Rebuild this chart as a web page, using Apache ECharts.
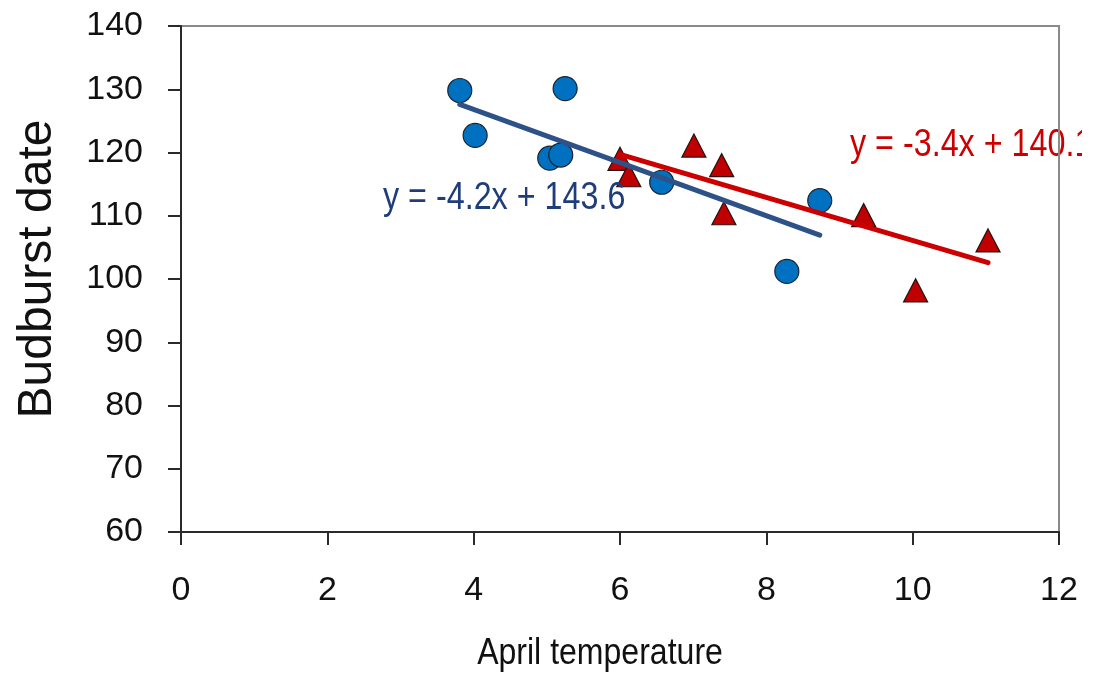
<!DOCTYPE html>
<html>
<head>
<meta charset="utf-8">
<script src="https://cdn.jsdelivr.net/npm/echarts@6/dist/echarts.min.js"></script>
<style>
  html, body { margin: 0; padding: 0; background: #ffffff; }
  #chart { width: 1082px; height: 679px; }
</style>
</head>
<body>
<div id="chart"></div>
<script>
// Budburst date against April temperature, two groups with linear fits
const groupA = [ // circles
  [3.81, 129.8], [4.02, 122.7], [5.25, 130.1], [5.04, 119.1],
  [5.19, 119.6], [6.57, 115.3], [8.73, 112.4], [8.28, 101.2]
];
const groupB = [ // triangles
  [6.00, 119.0], [6.12, 116.4], [7.01, 121.1], [7.39, 118.0],
  [7.42, 110.4], [9.33, 110.1], [10.04, 98.2], [11.03, 106.1]
];
const fitA = { slope: -4.2, intercept: 143.6 };
const fitB = { slope: -3.4, intercept: 140.1 };
const xTicks = { min: 0, max: 12, step: 2 };
const yTicks = { min: 60, max: 140, step: 10 };

const sans = "'Liberation Sans', Arial, sans-serif";
const narrowScale = 0.85; // horizontal squeeze to give a narrow face

function fitLine(points, fit) {
  const xs = points.map(p => p[0]);
  const x0 = Math.min(...xs), x1 = Math.max(...xs);
  return [[x0, fit.slope * x0 + fit.intercept], [x1, fit.slope * x1 + fit.intercept]];
}
function eqText(fit) {
  const s = fit.slope < 0 ? '-' + Math.abs(fit.slope).toFixed(1) : fit.slope.toFixed(1);
  return 'y = ' + s + 'x + ' + fit.intercept.toFixed(1);
}

const chart = echarts.init(document.getElementById('chart'), null, { renderer: 'canvas' });
chart.setOption({
  animation: false,
  backgroundColor: '#ffffff',
  grid: {
    left: 181, right: 23, top: 26, bottom: 147, z: 0,
    show: true, borderColor: '#8a8a8a', borderWidth: 2, backgroundColor: 'transparent'
  },
  xAxis: {
    type: 'value', min: xTicks.min, max: xTicks.max, interval: xTicks.step,
    axisLine: { show: true, onZero: false, lineStyle: { color: '#2a2a2a', width: 2 } },
    axisTick: { show: true, inside: false, length: 13, lineStyle: { color: '#2a2a2a', width: 2 } },
    axisLabel: { fontFamily: sans, fontSize: 34, color: '#111', margin: 42 },
    splitLine: { show: false }
  },
  yAxis: {
    type: 'value', min: yTicks.min, max: yTicks.max, interval: yTicks.step,
    name: 'Budburst date', nameLocation: 'middle', nameGap: 119, nameRotate: 90,
    nameTextStyle: { fontFamily: sans, fontSize: 48, color: '#111', padding: [0, 0, 0, 20] },
    axisLine: { show: true, onZero: false, lineStyle: { color: '#2a2a2a', width: 2 } },
    axisTick: { show: true, inside: false, length: 13, lineStyle: { color: '#2a2a2a', width: 2 } },
    axisLabel: { fontFamily: sans, fontSize: 34, color: '#111', margin: 38 },
    splitLine: { show: false }
  },
  series: [
    {
      type: 'scatter', data: groupA, symbol: 'circle', symbolSize: 24, z: 2,
      itemStyle: { color: '#0070C0', borderColor: '#1c2430', borderWidth: 1.2, opacity: 1 }
    },
    {
      type: 'scatter', data: groupB, symbol: 'triangle', symbolSize: [24, 23], z: 2,
      itemStyle: { color: '#C00000', borderColor: '#2a1010', borderWidth: 1.2, opacity: 1 }
    },
    {
      type: 'line', data: fitLine(groupB, fitB), symbol: 'none', z: 3,
      lineStyle: { color: '#CC0000', width: 5, cap: 'round' }
    },
    {
      type: 'line', data: fitLine(groupA, fitA), symbol: 'none', z: 4,
      lineStyle: { color: '#2E5288', width: 5, cap: 'round' }
    }
  ],
  graphic: [
    {
      type: 'text', x: 383, y: 180, scaleX: narrowScale, z: 10,
      style: { text: eqText(fitA), font: '38px ' + sans, fill: '#1F3D7A' }
    },
    {
      // sits beneath the plot frame, which crosses it on the right
      type: 'text', x: 850, y: 127, scaleX: narrowScale, z: -1,
      style: { text: eqText(fitB), font: '38px ' + sans, fill: '#CC0000' }
    },
    {
      type: 'text', x: 600, y: 636, scaleX: 0.89, z: 10,
      style: { text: 'April temperature', font: '36px ' + sans, fill: '#111', align: 'center' }
    }
  ]
});
</script>
</body>
</html>
